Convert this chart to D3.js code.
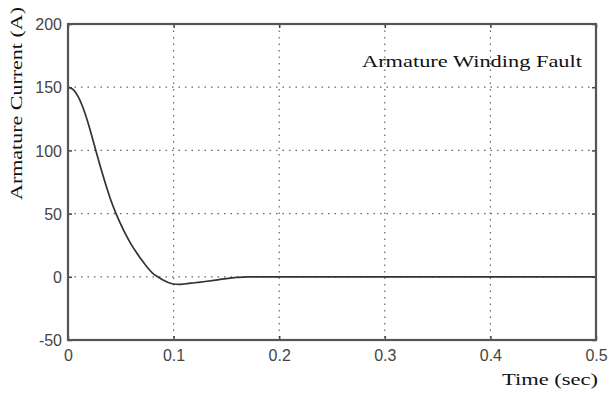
<!DOCTYPE html>
<html><head><meta charset="utf-8">
<script src="https://cdn.jsdelivr.net/npm/d3@7"></script>
<style>body{margin:0;background:#fff;} svg{display:block;}</style>
</head><body>
<script>
const timeVals = [0,0.005,0.01,0.015,0.02,0.025,0.03,0.035,0.04,0.045,0.05,0.055,0.06,0.065,0.07,0.075,0.08,0.085,0.09,0.095,0.1,0.105,0.11,0.12,0.13,0.14,0.15,0.16,0.17,0.18,0.2,0.3,0.4,0.5];
const currentVals = [150,148,142,132,119,104,89,75,62,51,41.5,33,25.5,19,13,7.5,3,0,-2.5,-4.5,-5.7,-6,-5.7,-4.7,-3.7,-2.6,-1.4,-0.5,0,0,0,0,0,0];
const xTicks = [0,0.1,0.2,0.3,0.4,0.5];
const yTicks = [-50,0,50,100,150,200];
const xLabel = "Time (sec)";
const yLabel = "Armature Current (A)";
const titleText = "Armature Winding Fault";

const W=611,H=394;
const m={l:68,r:15,t:24,b:54};
const svg=d3.select("body").append("svg").attr("width",W).attr("height",H);
const x=d3.scaleLinear().domain([0,0.5]).range([m.l,W-m.r]);
const y=d3.scaleLinear().domain([-50,200]).range([H-m.b,m.t]);

// grid
const g=svg.append("g");
g.selectAll(".vg").data(xTicks.slice(1,-1)).join("line")
 .attr("x1",d=>x(d)).attr("x2",d=>x(d)).attr("y1",y(200)).attr("y2",y(-50))
 .attr("stroke","#666").attr("stroke-width",1.2).attr("stroke-dasharray","1.5,5");
g.selectAll(".hg").data(yTicks.slice(1,-1)).join("line")
 .attr("y1",d=>y(d)).attr("y2",d=>y(d)).attr("x1",x(0)).attr("x2",x(0.5))
 .attr("stroke","#666").attr("stroke-width",1.2).attr("stroke-dasharray","1.5,5");

// curve
const data=timeVals.map((t,i)=>({t,v:currentVals[i]}));
svg.append("path").datum(data)
 .attr("d",d3.line().x(d=>x(d.t)).y(d=>y(d.v)).curve(d3.curveMonotoneX))
 .attr("fill","none").attr("stroke","#333").attr("stroke-width",1.7);

// axes via d3
const font="'Liberation Sans', Arial, sans-serif";
const axB=svg.append("g").attr("transform",`translate(0,${y(-50)})`)
 .call(d3.axisBottom(x).tickValues(xTicks).tickSize(-4).tickPadding(9).tickFormat(d=>d===0?"0":d3.format(".1f")(d)));
const axT=svg.append("g").attr("transform",`translate(0,${y(200)})`)
 .call(d3.axisTop(x).tickValues(xTicks).tickSize(-4).tickFormat(""));
const axL=svg.append("g").attr("transform",`translate(${x(0)},0)`)
 .call(d3.axisLeft(y).tickValues(yTicks).tickSize(-4).tickPadding(6).tickFormat(d=>String(d)));
const axR=svg.append("g").attr("transform",`translate(${x(0.5)},0)`)
 .call(d3.axisRight(y).tickValues(yTicks).tickSize(-4).tickFormat(""));
[axB,axT,axL,axR].forEach(a=>{
  a.select(".domain").remove();
  a.selectAll(".tick line").attr("stroke","#444").attr("stroke-width",1.5);
  a.selectAll("text").attr("font-family",font).attr("font-size",16).attr("fill","#444");
});
axB.selectAll("text").attr("dy","0.75em");
axL.selectAll("text").attr("dy","0.35em");
// frame
svg.append("rect").attr("x",x(0)).attr("y",y(200)).attr("width",x(0.5)-x(0)).attr("height",y(-50)-y(200))
 .attr("fill","none").attr("stroke","#555").attr("stroke-width",2.2);

const serif="'Liberation Serif','Times New Roman',serif";
svg.append("text").attr("x",502).attr("y",385)
 .attr("textLength",96).attr("lengthAdjust","spacingAndGlyphs")
 .attr("font-family",serif).attr("font-size",17).attr("fill","#111").text(xLabel);
svg.append("text").attr("transform",`translate(22,200) rotate(-90)`)
 .attr("textLength",193).attr("lengthAdjust","spacingAndGlyphs")
 .attr("font-family",serif).attr("font-size",17).attr("fill","#111").text(yLabel);
svg.append("text").attr("x",362).attr("y",67)
 .attr("textLength",220).attr("lengthAdjust","spacingAndGlyphs")
 .attr("font-family",serif).attr("font-size",17).attr("fill","#111").text(titleText);
</script>
</body></html>
